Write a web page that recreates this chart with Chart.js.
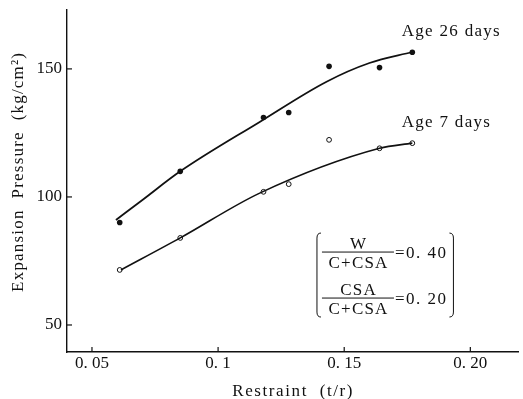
<!DOCTYPE html>
<html>
<head>
<meta charset="utf-8">
<script src="https://cdn.jsdelivr.net/npm/chart.js@4.4.0/dist/chart.umd.min.js"></script>
<style>
  html, body { margin: 0; padding: 0; background: #fff; }
  #wrap { width: 523px; height: 399px; }
</style>
</head>
<body>
<div id="wrap"><canvas id="c" width="523" height="399"></canvas></div>
<script>
// ---- data ----
const age26X = [0.061, 0.085, 0.118, 0.128, 0.144, 0.164, 0.177];
const age26Y = [90, 110, 131, 133, 151, 150.5, 156.5];
const age7X  = [0.061, 0.085, 0.118, 0.128, 0.144, 0.164, 0.177];
const age7Y  = [71.5, 84, 102, 105, 122.3, 119, 121];

// fitted curves
const curve26X = [0.0595, 0.070, 0.085, 0.1165, 0.143, 0.160, 0.177];
const curve26Y = [91, 98.8, 110, 129.3, 145, 152.3, 156.6];
const curve7X  = [0.0615, 0.085, 0.1165, 0.164, 0.177];
const curve7Y  = [71.5, 84, 101.5, 119, 121];

const xTicks = [0.05, 0.10, 0.15, 0.20];
const xTickLabels = ['0. 05', '0. 1', '0. 15', '0. 20'];
const yTicks = [50, 100, 150];
const yTickLabels = ['50', '100', '150'];

const xTitle = 'Restraint  (t/r)';
const yTitle = 'Expansion  Pressure  (kg/cm²)';
const seriesLabels = ['Age 26 days', 'Age 7 days'];
const labelPos = [[0.1728, 164.5], [0.1728, 128.9]];
const noteLines = [['W', 'C+CSA', '=0. 40'], ['CSA', 'C+CSA', '=0. 20']];
const noteBox = [0.1392, 0.1933, 85.9, 53.1];

const pts = (xs, ys) => xs.map((x, i) => ({x: x, y: ys[i]}));
const SERIF = '"Liberation Serif", "DejaVu Serif", serif';

const decor = {
  id: 'decor',
  afterDraw(chart) {
    const ctx = chart.ctx;
    const xs = chart.scales.x, ys = chart.scales.y;
    const ca = chart.chartArea;
    ctx.save();
    ctx.strokeStyle = '#111';
    ctx.lineWidth = 1.2;
    // inward tick marks
    xTicks.forEach(v => {
      const p = xs.getPixelForValue(v);
      ctx.beginPath(); ctx.moveTo(p, ca.bottom); ctx.lineTo(p, ca.bottom - 5); ctx.stroke();
    });
    yTicks.forEach(v => {
      const p = ys.getPixelForValue(v);
      ctx.beginPath(); ctx.moveTo(ca.left, p); ctx.lineTo(ca.left + 5, p); ctx.stroke();
    });
    ctx.fillStyle = '#111';
    // series labels
    ctx.font = '17px ' + SERIF;
    ctx.letterSpacing = '1.3px';
    ctx.textAlign = 'left';
    ctx.textBaseline = 'middle';
    seriesLabels.forEach((t, i) => {
      ctx.fillText(t, xs.getPixelForValue(labelPos[i][0]), ys.getPixelForValue(labelPos[i][1]));
    });
    // axis titles
    ctx.font = '17px ' + SERIF;
    ctx.letterSpacing = '1.6px';
    ctx.textAlign = 'center';
    ctx.fillText(xTitle, (xs.getPixelForValue(0.1) + xs.getPixelForValue(0.15)) / 2 + 12, ca.bottom + 40);
    ctx.letterSpacing = '1.2px';
    ctx.save();
    ctx.translate(19, ys.getPixelForValue(109.8));
    ctx.rotate(-Math.PI / 2);
    ctx.fillText(yTitle, 0, 0);
    ctx.restore();
    // note box
    const L = xs.getPixelForValue(noteBox[0]), R = xs.getPixelForValue(noteBox[1]);
    const T = ys.getPixelForValue(noteBox[2]), B = ys.getPixelForValue(noteBox[3]);
    ctx.lineWidth = 1;
    ctx.beginPath();
    ctx.moveTo(L + 4, T); ctx.quadraticCurveTo(L, T, L, T + 5); ctx.lineTo(L, B - 5); ctx.quadraticCurveTo(L, B, L + 4, B);
    ctx.moveTo(R - 4, T); ctx.quadraticCurveTo(R, T, R, T + 5); ctx.lineTo(R, B - 5); ctx.quadraticCurveTo(R, B, R - 4, B);
    ctx.stroke();
    const fx0 = L + 5, fx1 = L + 77, fcx = (fx0 + fx1) / 2;
    const rows = [T + 19, T + 65];
    noteLines.forEach((row, i) => {
      const yl = rows[i];
      ctx.font = '17px ' + SERIF;
      ctx.letterSpacing = '1.2px';
      ctx.textAlign = 'center';
      ctx.fillText(row[0], fcx + 0.6, yl - 8);
      ctx.fillText(row[1], fcx + 0.6, yl + 11);
      ctx.beginPath(); ctx.moveTo(fx0, yl); ctx.lineTo(fx1, yl); ctx.stroke();
      ctx.letterSpacing = '1.5px';
      ctx.textAlign = 'left';
      ctx.fillText(row[2], fx1 + 1, yl + 1);
    });
    ctx.restore();
  }
};

new Chart(document.getElementById('c'), {
  type: 'scatter',
  data: {
    datasets: [
      { label: 'Age 26 days fit', data: pts(curve26X, curve26Y), showLine: true, pointRadius: 0,
        borderColor: '#111', borderWidth: 1.8, cubicInterpolationMode: 'monotone', fill: false },
      { label: 'Age 7 days fit', data: pts(curve7X, curve7Y), showLine: true, pointRadius: 0,
        borderColor: '#111', borderWidth: 1.6, cubicInterpolationMode: 'monotone', fill: false },
      { label: 'Age 26 days', data: pts(age26X, age26Y), pointRadius: 2.8, pointBackgroundColor: '#111',
        pointBorderColor: '#111', borderWidth: 0, showLine: false },
      { label: 'Age 7 days', data: pts(age7X, age7Y), pointRadius: 2.4, pointBackgroundColor: '#fff',
        pointBorderColor: '#111', pointBorderWidth: 1, showLine: false }
    ]
  },
  options: {
    responsive: false,
    animation: false,
    layout: { padding: { left: 0, top: 10, right: 2, bottom: 0 } },
    plugins: { legend: { display: false }, tooltip: { enabled: false } },
    scales: {
      x: {
        type: 'linear', min: 0.0401, max: 0.2189,
        grid: { display: false, drawTicks: false },
        border: { display: true, color: '#111', width: 1.4 },
        afterBuildTicks: s => { s.ticks = xTicks.map(v => ({value: v})); },
        afterFit: s => { s.height = 47; s.paddingLeft = 0; s.paddingRight = 0; },
        ticks: { color: '#111', padding: 1, maxRotation: 0, autoSkip: false,
                 font: { family: SERIF, size: 17 },
                 callback: v => { const i = xTicks.findIndex(t => Math.abs(t - v) < 1e-9); return i >= 0 ? xTickLabels[i] : ''; } }
      },
      y: {
        type: 'linear', min: 39.45, max: 173,
        grid: { display: false, drawTicks: false },
        border: { display: true, color: '#111', width: 1.4 },
        afterBuildTicks: s => { s.ticks = yTicks.map(v => ({value: v})); },
        afterFit: s => { s.width = 67; s.paddingTop = 0; s.paddingBottom = 0; },
        ticks: { color: '#111', padding: 5, autoSkip: false,
                 font: { family: SERIF, size: 17 },
                 callback: v => { const i = yTicks.indexOf(v); return i >= 0 ? yTickLabels[i] : ''; } }
      }
    }
  },
  plugins: [decor]
});
</script>
</body>
</html>
